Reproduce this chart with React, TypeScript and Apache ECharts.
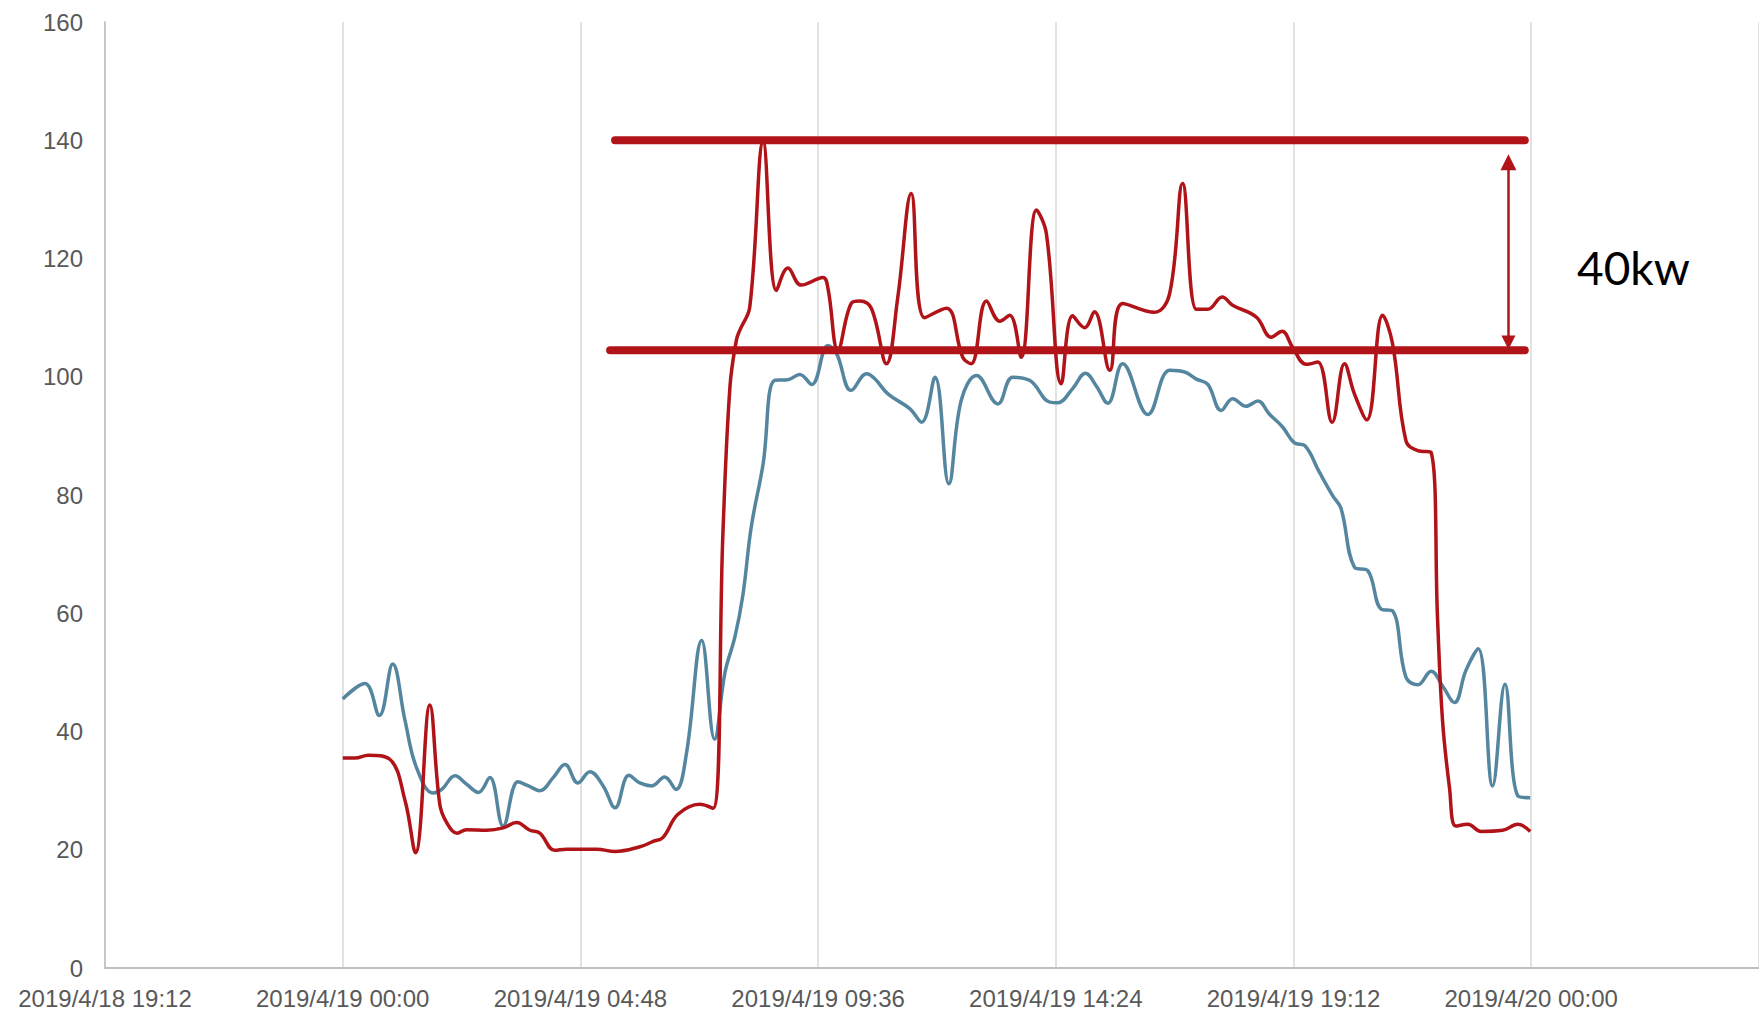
import React, { useEffect, useRef } from "react";
import * as echarts from "echarts";

// Hours since 2019/4/19 00:00
const blueTimes = [
  0, 0.45, 0.74, 1.01, 1.26, 1.49, 1.83, 2.0, 2.27, 2.5, 2.74, 2.97, 3.24, 3.54, 3.75, 3.98,
  4.25, 4.49, 4.75, 4.99, 5.26, 5.5, 5.78, 6.0, 6.24, 6.5, 6.73, 6.94, 7.25, 7.51, 7.72, 7.92,
  8.08, 8.25, 8.49, 8.72, 8.99, 9.23, 9.47, 9.8, 9.97, 10.27, 10.58, 10.74, 11.01, 11.45, 11.69,
  11.96, 12.24, 12.49, 12.8, 13.23, 13.53, 13.87, 14.28, 14.44, 14.74, 15.0, 15.22, 15.45, 15.75,
  16.26, 16.7, 17.0, 17.24, 17.47, 17.74, 17.97, 18.24, 18.48, 18.71, 18.98, 19.22, 19.42, 19.72,
  19.99, 20.16, 20.43, 20.7, 20.97, 21.2, 21.47, 21.71, 21.98, 22.21, 22.45, 22.68, 22.93, 23.22,
  23.47, 23.73, 23.98,
];
const blueValues = [
  45.5, 48.1, 42.7, 51.4, 41.8, 33.9, 29.6, 30.2, 32.5, 31.1, 29.7, 32.2, 24.0, 31.5, 30.8, 30.0,
  32.2, 34.4, 31.3, 33.2, 30.8, 27.1, 32.6, 31.3, 30.8, 32.3, 30.2, 36.2, 55.4, 38.7, 50, 56,
  63, 74.6, 85.3, 99.4, 99.5, 100.4, 98.7, 105.3, 104, 97.7, 100.5, 99.7, 97.1, 94.6, 92.3,
  99.9, 81.9, 96.0, 100.2, 95.4, 99.9, 99.4, 95.7, 95.6, 98.0, 100.6, 98.4, 95.5, 102.2,
  93.6, 101.1, 100.8, 99.6, 98.7, 94.3, 96.3, 95.0, 95.9, 93.7, 91.5, 88.8, 88.4, 83.9,
  79.9, 77.7, 67.8, 67.2, 60.7, 60.4, 49.2, 47.9, 50.2, 47.7, 44.9, 50.3, 54.0, 30.8,
  48.0, 29.1, 28.8,
];

const redTimes = [
  0, 0.25, 0.52, 0.95, 1.26, 1.47, 1.76, 1.96, 2.1, 2.31, 2.5, 2.91, 3.24, 3.51, 3.78, 3.98,
  4.28, 4.52, 5.13, 5.5, 6.0, 6.27, 6.47, 6.77, 7.21, 7.48, 7.68, 7.82, 7.95, 8.02, 8.22, 8.49,
  8.76, 8.99, 9.26, 9.7, 9.8, 10.0, 10.27, 10.44, 10.68, 10.98, 11.21, 11.48, 11.75, 12.19, 12.52,
  12.69, 13.0, 13.27, 13.47, 13.7, 14.01, 14.21, 14.51, 14.74, 14.98, 15.18, 15.49, 15.75, 16.39,
  16.7, 16.96, 17.24, 17.47, 17.76, 17.97, 18.45, 18.75, 18.97, 19.18, 19.46, 19.69, 19.98, 20.23,
  20.43, 20.68, 21.0, 21.2, 21.47, 21.71, 21.98, 22.11, 22.21, 22.35, 22.48, 22.72, 22.99, 23.42,
  23.73, 23.98,
];
const redValues = [
  35.5, 35.5, 36.0, 35.3, 28.3, 19.5, 44.5, 27.7, 24.6, 22.8, 23.4, 23.3, 23.7, 24.6, 23.3, 22.8,
  19.9, 20.1, 20.1, 19.7, 20.5, 21.4, 22.1, 26.0, 27.7, 27.0, 74, 98.3, 106.2, 107.9, 111.8, 139.7,
  114.6, 118.4, 115.5, 116.8, 114.9, 104.5, 112.4, 112.8, 111.5, 102.2, 113.5, 131.0, 110.0, 111.6, 103.3,
  102.2, 112.8, 109.4, 110.4, 103.3, 128.2, 124.2, 98.8, 110.3, 108.3, 111.0, 101.1, 112.4, 110.9,
  114.1, 132.7, 111.4, 111.4, 113.5, 112.1, 110.1, 106.7, 107.7, 105.0, 102.1, 102.5, 92.3, 102.2,
  97.1, 92.7, 110.4, 105.6, 89.2, 87.5, 87.2, 58.8, 41.8, 30.5, 24.0, 24.3, 23.1, 23.3,
  24.3, 23.1,
];

// Reference band (kW)
const upperLevel = 140;
const lowerLevel = 104.5;
const upperSpan = [5.5, 23.87];
const lowerSpan = [5.4, 23.87];
const arrowTime = 23.54;
const arrowTop = 136.3;
const arrowBottom = 105.8;
const bandLabel = "40kw";

const yTicks = { min: 0, max: 160, interval: 20 };
const xTicks = { min: -4.8, max: 28.6, interval: 4.8 };

const pad = (n: number) => (n < 10 ? "0" + n : "" + n);
const formatTime = (v: number) => {
  const mins = Math.round(v * 60);
  const d = new Date(Date.UTC(2019, 3, 19) + mins * 60000);
  return `${d.getUTCFullYear()}/${d.getUTCMonth() + 1}/${d.getUTCDate()} ${pad(d.getUTCHours())}:${pad(d.getUTCMinutes())}`;
};

const RED = "#b01318";
const BLUE = "#55869f";
const FONT = "'Liberation Sans', Arial, sans-serif";

export default function App() {
  const ref = useRef<HTMLDivElement>(null);
  useEffect(() => {
    if (!ref.current) return;
    const chart = echarts.init(ref.current, undefined, { renderer: "svg" });
    const zip = (t: number[], v: number[]) => t.map((x, i) => [x, v[i]]);
    chart.setOption({
      animation: false,
      grid: { left: 105, right: 0, top: 22, bottom: 44 },
      xAxis: {
        type: "value",
        min: xTicks.min,
        max: xTicks.max,
        interval: xTicks.interval,
        axisLine: { show: true, onZero: false, lineStyle: { color: "#bfbfbf", width: 2 } },
        axisTick: { show: false },
        splitLine: { show: true, lineStyle: { color: "#d9d9d9", width: 1.5 } },
        axisLabel: {
          formatter: formatTime,
          color: "#595959",
          fontSize: 24,
          fontFamily: FONT,
          margin: 18,
          showMaxLabel: false,
        },
      },
      yAxis: {
        type: "value",
        min: yTicks.min,
        max: yTicks.max,
        interval: yTicks.interval,
        axisLine: { show: true, onZero: false, lineStyle: { color: "#c8c8c8", width: 2 } },
        axisTick: { show: false },
        splitLine: { show: false },
        axisLabel: { color: "#595959", fontSize: 24, fontFamily: FONT, margin: 22 },
      },
      series: [
        {
          type: "line",
          data: zip(blueTimes, blueValues),
          smooth: 0.4,
          showSymbol: false,
          lineStyle: { color: BLUE, width: 3.5 },
          z: 2,
        },
        {
          type: "line",
          data: zip(redTimes, redValues),
          smooth: 0.4,
          showSymbol: false,
          lineStyle: { color: RED, width: 3.5 },
          z: 3,
        },
        {
          type: "line",
          data: upperSpan.map((t) => [t, upperLevel]),
          showSymbol: false,
          lineStyle: { color: RED, width: 8, cap: "round" },
          z: 4,
        },
        {
          type: "line",
          data: lowerSpan.map((t) => [t, lowerLevel]),
          showSymbol: false,
          lineStyle: { color: RED, width: 8, cap: "round" },
          z: 4,
        },
        {
          type: "lines",
          coordinateSystem: "cartesian2d",
          symbol: ["triangle", "triangle"],
          symbolSize: [16, 14],
          lineStyle: { color: RED, width: 2.5, opacity: 1 },
          itemStyle: { color: RED },
          data: [{ coords: [[arrowTime, arrowTop], [arrowTime, arrowBottom]] }],
          z: 5,
        },
      ],
      graphic: [
        {
          type: "text",
          left: 1577,
          top: 244,
          style: {
            text: bandLabel,
            fill: "#000000",
            fontSize: 46,
            fontFamily: "Lato, 'Liberation Sans', sans-serif",
          },
        },
      ],
    });
    return () => chart.dispose();
  }, []);
  return (
    <div
      ref={ref}
      style={{ position: "absolute", left: 0, top: 0, width: 1759, height: 1012 }}
    />
  );
}
